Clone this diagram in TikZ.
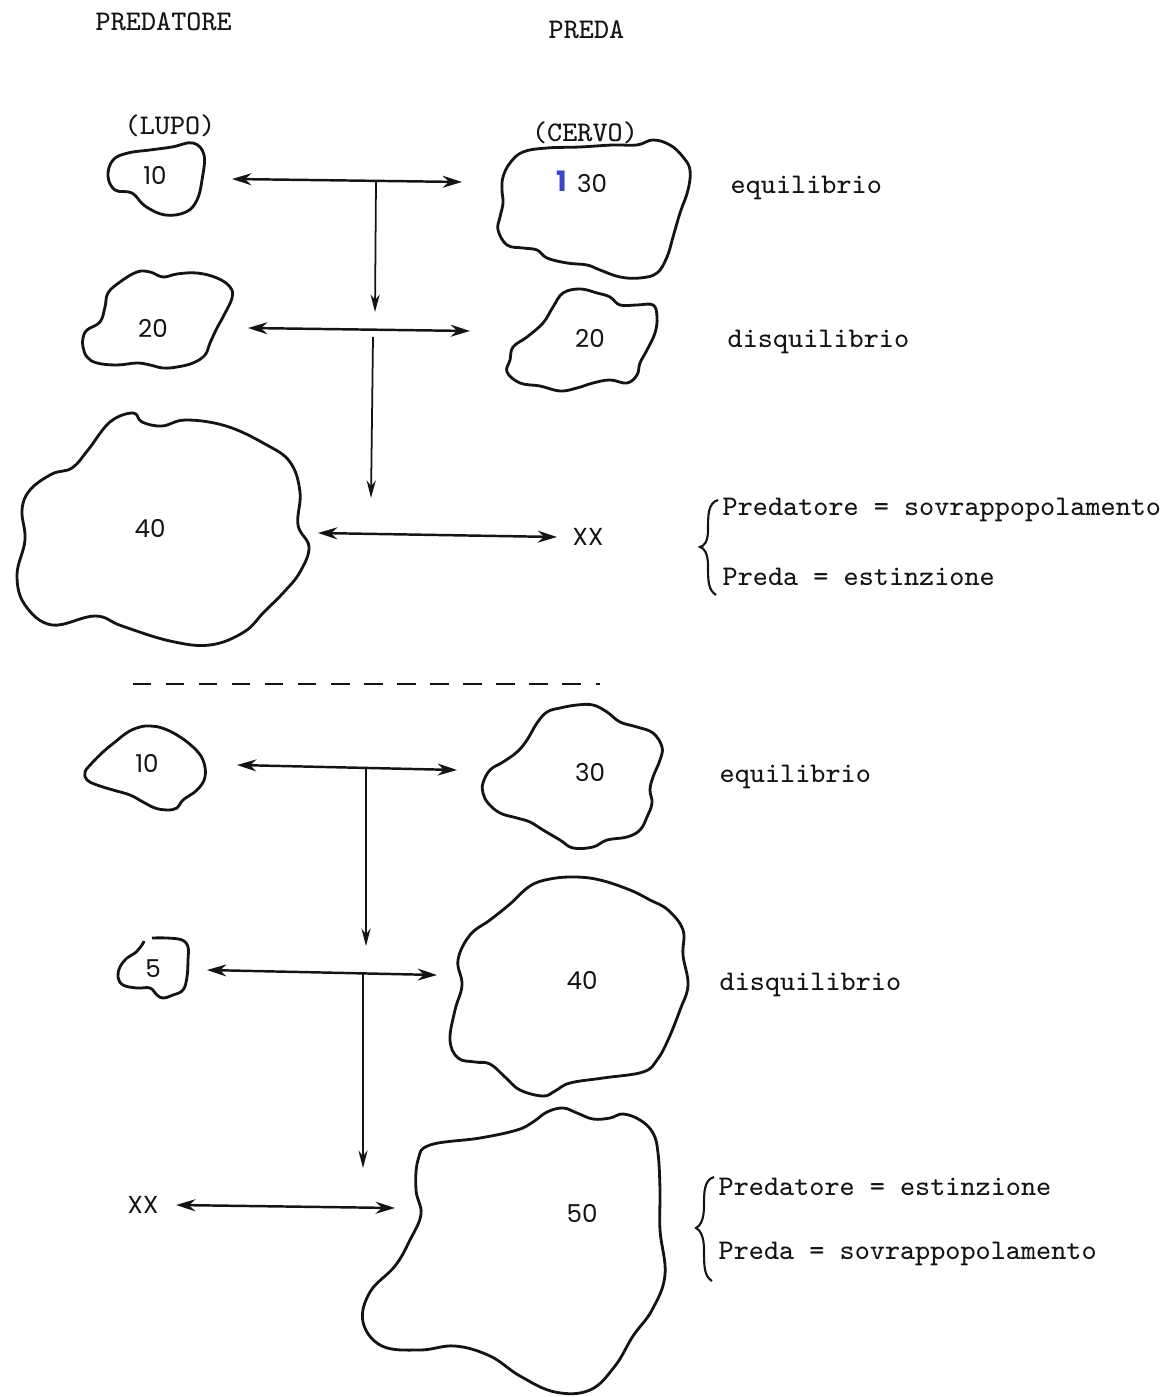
\documentclass[tikz,border=0pt]{standalone}
\usepackage{fontspec}
\newfontfamily\numfont{Poppins}
\usetikzlibrary{arrows.meta}
\definecolor{pen}{RGB}{20,20,20}
\definecolor{bluepen}{RGB}{60,70,200}
\tikzset{
  blob/.style={draw=pen, line width=0.8pt, line join=round},
  txt/.style={font=\ttfamily\fontsize{8.1}{9}\selectfont, inner sep=0pt, text=pen},
  num/.style={font=\numfont\fontsize{7}{8}\selectfont, inner sep=0pt, text=pen},
  harrow/.style={draw=pen, line width=0.7pt, {Stealth[length=5.5pt,width=3.4pt]}-{Stealth[length=5.5pt,width=3.4pt]}},
  varrow/.style={draw=pen, line width=0.5pt, -{Stealth[length=5pt,width=2.6pt]}},
  sep/.style={draw=pen, line width=0.6pt, dash pattern=on 5.2pt off 4.2pt}
}
\begin{document}
\begin{tikzpicture}[x=0.1mm, y=-0.1mm]
\useasboundingbox (0,0) rectangle (1173,1397);
\fill[white] (0,0) rectangle (1173,1397);

% headings
\node[txt, anchor=west] (hpred) at (95,22) {PREDATORE};
\node[txt, anchor=west] (hpreda) at (548,30) {PREDA};
\node[txt] (lupo) at (170,126) {(LUPO)};
\node[txt] (cervo) at (585,133) {(CERVO)};

% ---------- top section blobs ----------
\draw[blob] plot[smooth cycle, tension=0.65] coordinates {(108,176) (113,160) (128,153) (150,150) (172,147) (193,143) (204,155) (202,180) (197,200) (186,212) (165,215) (145,206) (132,193) (115,190)};
\node[num] (a10) at (155,175) {10};

\draw[blob] plot[smooth cycle, tension=0.65] coordinates {(523,152) (547,148) (580,147) (613,145) (637,145) (653,140) (670,145) (683,157) (690,170) (688,190) (680,213) (673,237) (667,257) (657,273) (640,278) (620,277) (600,270) (587,265) (567,263) (547,258) (537,250) (523,248) (507,245) (498,230) (500,217) (503,203) (502,190) (503,177) (510,163)};
\node[num] (b30) at (592,184) {30};
\node[font=\numfont\bfseries\fontsize{8}{9}\selectfont, text=bluepen, inner sep=0pt] (mark) at (562,181) {1};

\draw[blob] plot[smooth cycle, tension=0.65] coordinates {(83,338) (87,330) (100,322) (105,307) (108,293) (120,282) (137,272) (150,272) (163,277) (177,274) (197,273) (217,278) (230,287) (232,298) (223,317) (217,328) (210,343) (205,355) (193,363) (177,367) (163,368) (150,365) (137,363) (117,365) (97,363) (87,357) (83,347)};
\node[num] (a20) at (153,328) {20};

\draw[blob] plot[smooth cycle, tension=0.65] coordinates {(507,372) (510,360) (513,347) (527,337) (543,323) (553,307) (563,293) (580,289) (597,293) (610,297) (620,305) (637,305) (653,305) (657,317) (655,333) (647,350) (640,363) (637,375) (627,383) (610,380) (593,383) (577,388) (560,391) (540,386) (520,383)};
\node[num] (b20) at (590,338) {20};

\draw[blob] plot[smooth cycle, tension=0.65] coordinates {(30,490) (52,474) (72,468) (88,450) (110,422) (133,413) (142,422) (162,426) (186,420) (226,426) (265,444) (290,462) (300,492) (298,525) (309,547) (300,572) (284,592) (264,612) (244,632) (210,645) (170,641) (122,626) (95,616) (52,625) (25,605) (17,575) (25,540) (22,510)};
\node[num] (a40) at (150,528) {40};

\node[num, anchor=center] (xx1) at (588,537) {XX};

% top section connectors
\coordinate (h1l) at (232,179); \coordinate (h1r) at (462,182);
\coordinate (h2l) at (248,328); \coordinate (h2r) at (470,331);
\coordinate (h3l) at (318,533); \coordinate (h3r) at (557,537);
\coordinate (v1s) at (376,181); \coordinate (v1e) at (375,312);
\coordinate (v2s) at (373,337); \coordinate (v2e) at (371,498);
\draw[harrow] (h1l) -- (h1r);
\draw[harrow] (h2l) -- (h2r);
\draw[harrow] (h3l) -- (h3r);
\draw[varrow] (v1s) -- (v1e);
\draw[varrow] (v2s) -- (v2e);

% right labels top
\node[txt, anchor=west] (eq1) at (730,188) {equilibrio};
\node[txt, anchor=west] (dis1) at (727,342) {disquilibrio};
\draw[draw=pen, line width=0.6pt] (718,500) .. controls (708,503) and (708,515) .. (708,530) .. controls (708,542) and (704,546) .. (700,547) .. controls (704,548) and (708,553) .. (708,566) .. controls (708,580) and (708,590) .. (716,595);
\node[txt, anchor=west] (r1a) at (722,510) {Predatore = sovrappopolamento};
\node[txt, anchor=west] (r1b) at (722,577) {Preda = estinzione};

% separator
\coordinate (s1) at (133,684); \coordinate (s2) at (600,684);
\draw[sep] (s1) -- (s2);

% ---------- bottom section blobs ----------
\draw[blob] plot[smooth cycle, tension=0.65] coordinates {(85,772) (92,763) (103,752) (115,742) (128,732) (140,727) (150,726) (162,728) (177,735) (193,747) (203,760) (205,777) (197,790) (183,800) (177,808) (167,810) (155,808) (143,802) (130,795) (113,790) (97,785) (87,780)};
\node[num] (c10) at (147,763) {10};

\draw[blob] plot[smooth cycle, tension=0.65] coordinates {(483,783) (490,770) (503,762) (517,752) (527,740) (537,723) (547,712) (560,708) (577,705) (593,705) (607,712) (620,722) (637,727) (653,733) (662,747) (660,760) (653,777) (650,790) (652,803) (647,817) (640,830) (627,837) (607,840) (593,847) (573,848) (560,840) (543,830) (530,822) (517,818) (500,813) (488,803) (483,793)};
\node[num] (d30) at (590,772) {30};

\draw[blob] plot[smooth, tension=0.65] coordinates {(152,938) (167,938) (182,940) (188,947) (188,960) (187,977) (183,990) (173,995) (163,998) (157,995) (150,988) (137,988) (123,985) (118,977) (120,967) (127,958) (135,953) (142,945) (144,941)};
\node[num] (c5) at (153,969) {5};

\draw[blob] plot[smooth cycle, tension=0.65] coordinates {(530,886) (510,904) (490,920) (470,935) (458,960) (462,985) (455,1010) (450,1040) (458,1058) (475,1062) (490,1064) (505,1077) (520,1090) (543,1096) (555,1091) (570,1083) (603,1078) (643,1072) (657,1060) (668,1040) (680,1010) (688,985) (683,955) (683,930) (668,910) (650,900) (630,890) (600,880) (575,877) (550,879)};
\node[num] (d40) at (582,980) {40};

\draw[blob] plot[smooth cycle, tension=0.65] coordinates {(430,1145) (480,1138) (517,1130) (533,1122) (547,1112) (563,1108) (577,1113) (593,1119) (610,1118) (623,1114) (640,1120) (653,1133) (658,1153) (660,1190) (660,1230) (665,1275) (652,1310) (633,1336) (615,1366) (590,1390) (555,1392) (520,1376) (490,1356) (455,1346) (420,1350) (382,1346) (363,1322) (370,1292) (395,1266) (410,1240) (421,1214) (416,1190) (418,1160)};
\node[num] (d50) at (582,1213) {50};

\node[num] (xx2) at (143,1205) {XX};

% bottom connectors
\coordinate (k1l) at (237,765); \coordinate (k1r) at (457,770);
\coordinate (k2l) at (207,970); \coordinate (k2r) at (437,975);
\coordinate (k3l) at (176,1205); \coordinate (k3r) at (395,1208);
\coordinate (w1s) at (366,768); \coordinate (w1e) at (366,946);
\coordinate (w2s) at (363,973); \coordinate (w2e) at (363,1168);
\draw[harrow] (k1l) -- (k1r);
\draw[harrow] (k2l) -- (k2r);
\draw[harrow] (k3l) -- (k3r);
\draw[varrow] (w1s) -- (w1e);
\draw[varrow] (w2s) -- (w2e);

% right labels bottom
\node[txt, anchor=west] (eq2) at (719,777) {equilibrio};
\node[txt, anchor=west] (dis2) at (719,985) {disquilibrio};
\draw[draw=pen, line width=0.6pt] (714,1177) .. controls (704,1180) and (704,1192) .. (704,1206) .. controls (704,1220) and (700,1226) .. (696,1228) .. controls (700,1230) and (704,1236) .. (704,1250) .. controls (704,1266) and (704,1276) .. (712,1281);
\node[txt, anchor=west] (r2a) at (718,1187) {Predatore = estinzione};
\node[txt, anchor=west] (r2b) at (718,1254) {Preda = sovrappopolamento};
\end{tikzpicture}
\end{document}
